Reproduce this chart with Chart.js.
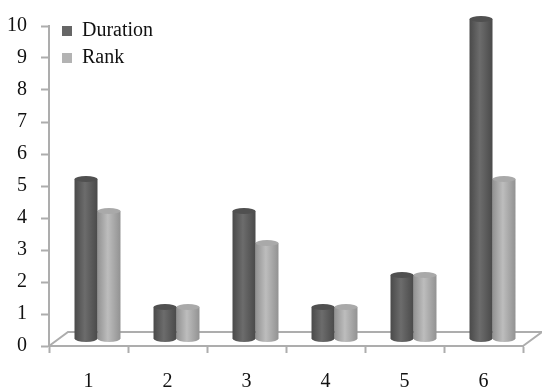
<!DOCTYPE html>
<html>
<head>
<meta charset="utf-8">
<style>
  html, body { margin: 0; padding: 0; background: #fff; }
  canvas { display: block; }
</style>
<script src="https://cdn.jsdelivr.net/npm/chart.js@4"></script>
</head>
<body>
<canvas id="myChart" width="542" height="387"></canvas>
<script>
const categories = ['1', '2', '3', '4', '5', '6'];
const durationValues = [5, 1, 4, 1, 2, 10];
const rankValues = [4, 1, 3, 1, 2, 5];

// depth of the fake 3D floor, in pixels
const floorDepthX = 19;
const floorDepthY = 14;
const barShiftX = 9;
const barShiftY = 7;
const lineGrey = '#adadad';
const textFont = { family: '"Liberation Serif"', size: 20 };

const barShades = {
    Duration: { edge: '#4a4a4a', mid: '#6c6c6c', cap: '#505050' },
    Rank: { edge: '#929292', mid: '#bdbdbd', cap: '#a9a9a9' }
};

// Cylinder look: gradient on each bar, ellipse at both ends
const cylinderPlugin = {
    id: 'cylinder',
    afterLayout(chart) {
        chart.legend.left += 6;
        chart.legend.top += 14;
    },
    beforeDatasetsDraw(chart) {
        const ctx = chart.ctx;
        const x0 = chart.scales.x.left;
        const x1 = chart.scales.x.right;
        const y0 = chart.scales.y.getPixelForValue(0);
        ctx.save();
        ctx.strokeStyle = lineGrey;
        ctx.lineWidth = 2;
        ctx.beginPath();
        ctx.moveTo(x0, y0);
        ctx.lineTo(x0 + floorDepthX, y0 - floorDepthY);
        ctx.lineTo(x1 + floorDepthX, y0 - floorDepthY);
        ctx.lineTo(x1, y0);
        ctx.stroke();
        ctx.restore();
    },
    beforeDatasetDraw(chart, args) {
        const ctx = chart.ctx;
        const shades = barShades[chart.data.datasets[args.index].label];
        ctx.save();
        ctx.translate(barShiftX, -barShiftY);
        args.meta.data.forEach(bar => {
            const left = bar.x - bar.width / 2;
            const grad = ctx.createLinearGradient(left, 0, left + bar.width, 0);
            grad.addColorStop(0, shades.edge);
            grad.addColorStop(0.45, shades.mid);
            grad.addColorStop(1, shades.edge);
            bar.options = Object.assign(Object.create(bar.options), { backgroundColor: grad });
            ctx.fillStyle = grad;
            ctx.beginPath();
            ctx.ellipse(bar.x, bar.base, bar.width / 2, 3.5, 0, 0, Math.PI * 2);
            ctx.fill();
        });
    },
    afterDatasetDraw(chart, args) {
        const ctx = chart.ctx;
        const shades = barShades[chart.data.datasets[args.index].label];
        args.meta.data.forEach(bar => {
            ctx.fillStyle = shades.cap;
            ctx.beginPath();
            ctx.ellipse(bar.x, bar.y, bar.width / 2, 3, 0, 0, Math.PI * 2);
            ctx.fill();
        });
        ctx.restore();
    }
};

new Chart(document.getElementById('myChart').getContext('2d'), {
    type: 'bar',
    plugins: [cylinderPlugin],
    data: {
        labels: categories,
        datasets: [
            { label: 'Duration', data: durationValues, backgroundColor: '#666666', clip: false },
            { label: 'Rank', data: rankValues, backgroundColor: '#b3b3b3', clip: false }
        ]
    },
    options: {
        responsive: false,
        animation: false,
        barPercentage: 1,
        categoryPercentage: 0.582,
        layout: { padding: { top: 23, right: 19, left: 0, bottom: 0 } },
        scales: {
            x: {
                afterFit(scale) { scale.height = 41; },
                grid: { drawOnChartArea: false, tickLength: 7, tickColor: lineGrey, tickWidth: 2 },
                border: { color: lineGrey, width: 2 },
                ticks: { color: '#111', padding: 17, maxRotation: 0, font: textFont }
            },
            y: {
                min: 0,
                max: 10,
                afterFit(scale) { scale.width = 49; },
                grid: { drawOnChartArea: false, tickLength: 8, tickColor: lineGrey, tickWidth: 2 },
                border: { color: lineGrey, width: 2 },
                ticks: { stepSize: 1, color: '#111', padding: 14, font: textFont }
            }
        },
        plugins: {
            tooltip: { enabled: false },
            legend: {
                position: 'chartArea',
                align: 'start',
                labels: {
                    boxWidth: 10,
                    boxHeight: 10,
                    padding: 7,
                    color: '#111',
                    font: textFont
                }
            }
        }
    }
});
</script>
</body>
</html>
